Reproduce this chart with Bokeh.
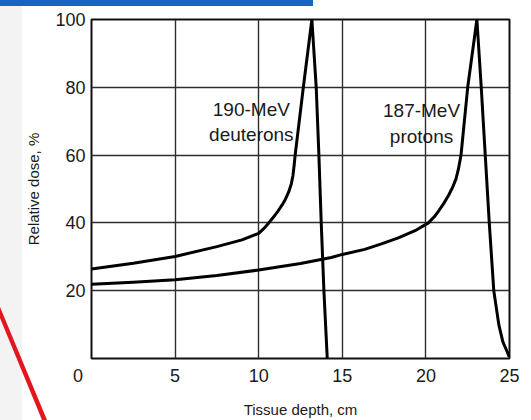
from bokeh.plotting import figure
from bokeh.models import Range1d, FixedTicker, ColumnDataSource, Div
from bokeh.layouts import column
from bokeh.core.properties import value
from bokeh.embed import file_html
from bokeh.resources import INLINE

# ---- data ----
deut_depth = [0, 2.5, 5, 7.5, 9, 10, 10.3, 10.6, 10.9, 11.13, 11.4, 11.6, 11.8, 11.95, 12.05,
              12.12, 12.18, 12.67, 13.18, 13.44, 13.6, 13.74, 13.9, 14.1]
deut_dose = [26.4, 28.1, 30.1, 33.0, 35.0, 36.9, 38.3, 40.0, 41.8, 43.3, 45.3, 47.0, 49.2, 51.5, 54.0,
             57.0, 60.0, 80.0, 100.0, 80.0, 60.0, 40.0, 20.0, 0.0]

prot_depth = [0, 2.5, 5, 7.5, 10, 12.5, 14.34, 15, 16.34, 17.34, 18.35, 19.35, 20.15, 20.5, 20.8,
              21.1, 21.35, 21.6, 21.8, 21.95, 22.1, 22.5, 23.05, 23.31, 23.55, 23.79, 24.06, 24.36,
              24.6, 24.86, 24.98]
prot_dose = [21.9, 22.5, 23.2, 24.5, 26.1, 28.0, 29.8, 30.7, 32.2, 33.8, 35.6, 37.7, 40.0, 41.8, 43.8,
             46.0, 48.1, 50.5, 53.0, 56.0, 60.0, 80.0, 100.0, 80.0, 60.0, 40.0, 20.0, 10.0,
             5.0, 2.0, 0.5]

x_ticks = [0, 5, 10, 15, 20, 25]
y_ticks = [20, 40, 60, 80, 100]

label_text = ["190-MeV", "deuterons", "187-MeV", "protons"]
label_x = [9.56, 9.56, 19.74, 19.74]
label_y = [73.4, 66.0, 73.3, 65.6]

FONT = "Liberation Sans"
INK = "#1a1a1a"

p = figure(width=527, height=420, output_backend="svg", toolbar_location=None,
           x_range=Range1d(0, 25), y_range=Range1d(0, 100),
           min_border_left=91, min_border_right=18, min_border_top=19, min_border_bottom=59,
           margin=(0, 0, 0, 0))

p.background_fill_color = "white"
p.border_fill_alpha = 0
p.outline_line_color = "#111111"
p.outline_line_width = 2

for g in (p.xgrid, p.ygrid):
    g.grid_line_color = "#2e2e2e"
    g.grid_line_width = 1.4
p.xgrid.ticker = FixedTicker(ticks=x_ticks)
p.ygrid.ticker = FixedTicker(ticks=y_ticks)

p.xaxis.ticker = FixedTicker(ticks=x_ticks)
p.yaxis.ticker = FixedTicker(ticks=y_ticks)
# the "0" of the depth axis sits left of the corner
p.xaxis.major_label_overrides = {x_ticks[0]: str(x_ticks[0]) + "\u2002\u2002\u2002"}

for ax in (p.xaxis, p.yaxis):
    ax.axis_line_color = None
    ax.major_tick_line_color = None
    ax.minor_tick_line_color = None
    ax.major_tick_out = 0
    ax.major_tick_in = 0
    ax.major_label_text_font = FONT
    ax.major_label_text_font_size = "18px"
    ax.major_label_text_color = INK
    ax.axis_label_text_font = FONT
    ax.axis_label_text_font_size = "15px"
    ax.axis_label_text_font_style = "normal"
    ax.axis_label_text_color = INK

p.xaxis.major_label_standoff = 7
p.yaxis.major_label_standoff = 6
p.xaxis.axis_label = "Tissue depth, cm"
p.yaxis.axis_label = "Relative dose, %"
p.xaxis.axis_label_standoff = 12
p.yaxis.axis_label_standoff = 10

p.line(deut_depth, deut_dose, line_color="black", line_width=3, line_join="round")
p.line(prot_depth, prot_dose, line_color="black", line_width=3, line_join="round")

src = ColumnDataSource(dict(x=label_x, y=label_y, t=label_text))
p.text(x="x", y="y", text="t", source=src, text_align="center", text_baseline="middle",
       text_font=value(FONT), text_font_size="19px", text_color=INK)

# decorations of the slide the chart was cut from (drawn behind the transparent border)
deco = Div(width=0, height=0, margin=(0, 0, 0, 0), styles={"overflow": "visible"},
           text=('<svg width="531" height="420" '
                 'style="position:absolute;left:0;top:0;pointer-events:none">'
                 '<rect x="0" y="0" width="22" height="420" fill="#f3f3f3"/>'
                 '<rect x="0" y="0" width="313" height="6" fill="#1565c4"/>'
                 '<polygon points="0,307 47,420 42,420 0,318" fill="#e3161e"/>'
                 '</svg>'))

layout = column(deco, p, spacing=0, margin=(0, 0, 0, 0))
open("out.html", "w").write(file_html(layout, INLINE))
